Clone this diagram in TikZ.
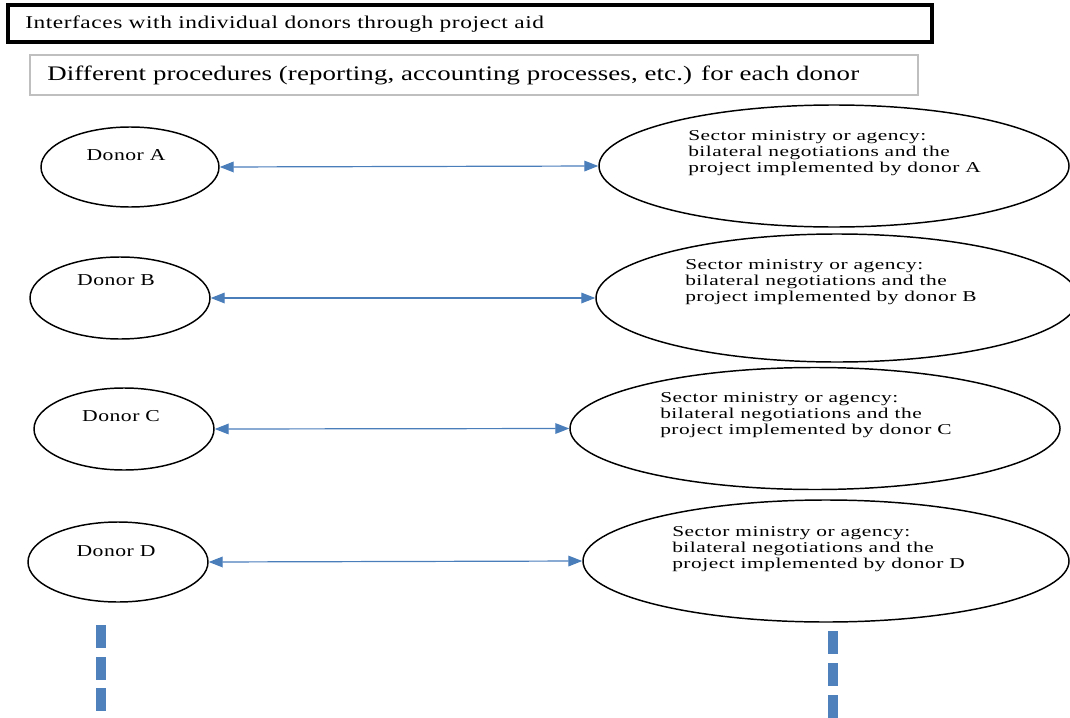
\documentclass[tikz,border=0pt]{standalone}
\usepackage{fontspec}
\setmainfont{Liberation Serif}
% widened serif faces for the labels
\newfontfamily\wideserif[FakeStretch=1.3, LetterSpace=3]{Liberation Serif}
\newfontfamily\wideserifb[FakeStretch=1.3, LetterSpace=0.6]{Liberation Serif}
\newfontfamily\wideserifc[FakeStretch=1.42, LetterSpace=3.5]{Liberation Serif}
\usetikzlibrary{shapes.geometric,arrows.meta}
\definecolor{linkblue}{HTML}{4A7EBB}
\definecolor{dashblue}{HTML}{4F81BD}
\tikzset{
  donor/.style={draw=black, line width=1.1pt, ellipse, inner sep=0pt},
  sector/.style={draw=black, line width=1.1pt, ellipse, inner sep=0pt},
  dtext/.style={font=\wideserif\fontsize{12.5}{14}\selectfont, inner sep=0pt},
  stext/.style={font=\wideserifc\fontsize{11.3}{12}\selectfont, align=left, inner sep=0pt, anchor=north west},
  link/.style={draw=linkblue, line width=0.9pt, {Triangle[length=10.5pt,width=8pt]}-{Triangle[length=10.5pt,width=8pt]}},
  more/.style={draw=dashblue, line width=8pt},
}
\begin{document}
\begin{tikzpicture}[x=0.75pt,y=-0.75pt]
\useasboundingbox (0,0) rectangle (1070,717);
\clip (0,0) rectangle (1070,717);

% headings
\node[draw=black, line width=3pt, minimum width=924*0.75pt, minimum height=37*0.75pt, inner sep=0pt] (title) at (470,23.5) {};
\node[anchor=west, inner sep=0pt, font=\wideserif\fontsize{13.5}{14}\selectfont] (titletext) at (25,24) {Interfaces with individual donors through project aid};
\node[draw=black!25, line width=0.8pt, minimum width=888*0.75pt, minimum height=40*0.75pt, inner sep=0pt] (proc) at (474,75) {};
\node[anchor=west, inner sep=0pt, font=\wideserifb\fontsize{15.5}{18}\selectfont] (proctext) at (47,75) {Different procedures (reporting, accounting processes, etc.) for each donor};

% donors
\node[donor, minimum width=178*0.75pt, minimum height=80*0.75pt] (da) at (130,167) {};
\node[donor, minimum width=180*0.75pt, minimum height=82*0.75pt] (db) at (120,298) {};
\node[donor, minimum width=180*0.75pt, minimum height=82*0.75pt] (dc) at (124,429) {};
\node[donor, minimum width=180*0.75pt, minimum height=80*0.75pt] (dd) at (118,562) {};
\node[dtext] (ta) at (126,155) {Donor A};
\node[dtext] (tb) at (116,280) {Donor B};
\node[dtext] (tc) at (121,416) {Donor C};
\node[dtext] (td) at (116,551) {Donor D};

% sector ministries
\node[sector, minimum width=470*0.75pt, minimum height=122*0.75pt] (sa) at (834,166) {};
\node[sector, minimum width=482*0.75pt, minimum height=128*0.75pt] (sb) at (837,298) {};
\node[sector, minimum width=490*0.75pt, minimum height=122*0.75pt] (sc) at (815,428.5) {};
\node[sector, minimum width=486*0.75pt, minimum height=122*0.75pt] (sd) at (826,561) {};
\node[stext] (usa) at (688,130) {Sector ministry or agency:\\bilateral negotiations and the\\project implemented by donor A};
\node[stext] (usb) at (685,259) {Sector ministry or agency:\\bilateral negotiations and the\\project implemented by donor B};
\node[stext] (usc) at (660,392) {Sector ministry or agency:\\bilateral negotiations and the\\project implemented by donor C};
\node[stext] (usd) at (672,526) {Sector ministry or agency:\\bilateral negotiations and the\\project implemented by donor D};

% two-way links
\draw[link] (da.east) -- (sa.west);
\draw[link] (db.east) -- (sb.west);
\draw[link] (dc.east) -- (sc.west);
\draw[link] (dd.east) -- (sd.west);

% continuation marks
\coordinate (l1) at (101,625); \coordinate (l2) at (101,648);
\coordinate (l3) at (101,657); \coordinate (l4) at (101,680);
\coordinate (l5) at (101,688); \coordinate (l6) at (101,711);
\coordinate (r1) at (833,631); \coordinate (r2) at (833,654);
\coordinate (r3) at (833,663); \coordinate (r4) at (833,686);
\coordinate (r5) at (833,695); \coordinate (r6) at (833,718);
\draw[more] (l1) -- (l2); \draw[more] (l3) -- (l4); \draw[more] (l5) -- (l6);
\draw[more] (r1) -- (r2); \draw[more] (r3) -- (r4); \draw[more] (r5) -- (r6);
\end{tikzpicture}
\end{document}
